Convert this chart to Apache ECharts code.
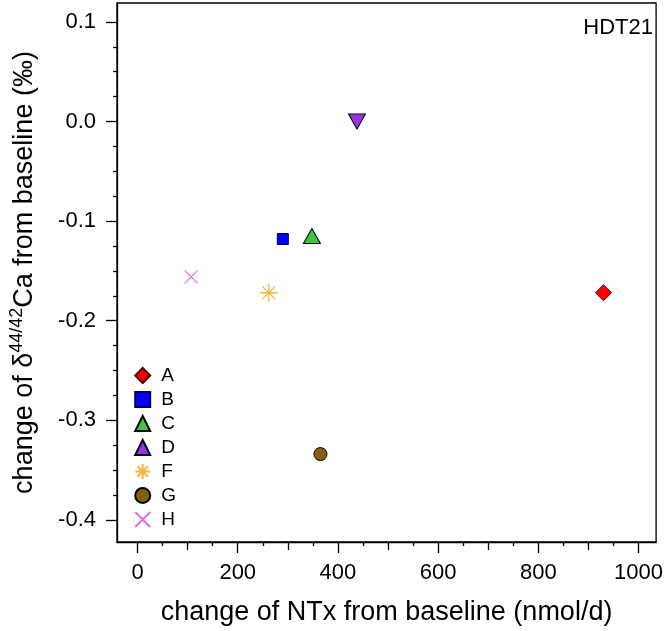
<!DOCTYPE html>
<html>
<head>
<meta charset="utf-8">
<script src="https://cdn.jsdelivr.net/npm/echarts@6/dist/echarts.min.js"></script>
<style>
html,body{margin:0;padding:0;background:#fff;}
#chart{width:666px;height:631px;}
</style>
</head>
<body>
<div id="chart"></div>
<script>
// ---- data ----
const categories = ['A', 'B', 'C', 'D', 'F', 'G', 'H'];
const ntxChange = [930, 290, 348, 438, 262, 365, 107];
const caChange = [-0.172, -0.118, -0.115, 0.000, -0.172, -0.334, -0.156];
const xRange = [-41, 1035];
const yRange = [-0.4223, 0.119];
const xMajorTicks = [0, 200, 400, 600, 800, 1000];
const xMidTicks = [100, 300, 500, 700, 900];
const xMinorTicks = [50, 150, 250, 350, 450, 550, 650, 750, 850, 950];
const yMajorTicks = [0.1, 0.0, -0.1, -0.2, -0.3, -0.4];
const yMinorTicks = [0.075, 0.05, 0.025, -0.025, -0.05, -0.075, -0.125, -0.15, -0.175,
  -0.225, -0.25, -0.275, -0.325, -0.35, -0.375];
const panelLabel = 'HDT21';
const xTitle = 'change of NTx from baseline (nmol/d)';
const yTitle = 'change of δ{sup|44/42}Ca from baseline (‰)';

// ---- styles ----
const FONT = 'Liberation Sans, Arial, sans-serif';
const asterisk = 'path://M0,-10L0,10M-10,0L10,0M-7.07,-7.07L7.07,7.07M-7.07,7.07L7.07,-7.07';
const crossPath = 'path://M-10,-10L10,10M-10,10L10,-10';
const markerStyles = {
  A: {symbol: 'diamond', size: [16, 16], rotate: 0, item: {color: '#ff0000', borderColor: '#4a0000', borderWidth: 1}},
  B: {symbol: 'rect', size: [11, 11], rotate: 0, item: {color: '#0000ff', borderColor: '#00004a', borderWidth: 1}},
  C: {symbol: 'triangle', size: [17, 15], rotate: 0, item: {color: '#3ec83e', borderColor: '#000', borderWidth: 1}},
  D: {symbol: 'triangle', size: [17, 15], rotate: 180, item: {color: '#9a32e8', borderColor: '#000', borderWidth: 1}},
  F: {symbol: asterisk, size: [18, 18], rotate: 0, item: {color: 'transparent', borderColor: '#fcb33c', borderWidth: 1.3}},
  G: {symbol: 'circle', size: [13, 13], rotate: 0, item: {color: '#86600e', borderColor: '#000', borderWidth: 1}},
  H: {symbol: crossPath, size: [13, 13], rotate: 0, item: {color: 'transparent', borderColor: '#e86ce8', borderWidth: 1.2}}
};

const series = categories.map((c, i) => ({
  name: c,
  type: 'scatter',
  symbol: markerStyles[c].symbol,
  symbolSize: markerStyles[c].size,
  symbolRotate: markerStyles[c].rotate,
  itemStyle: Object.assign({opacity: 1}, markerStyles[c].item),
  emphasis: {disabled: true},
  data: [[ntxChange[i], caChange[i]]]
}));

const tickLine = {color: '#000', width: 1.3};
function extraX(values, len) {
  return {
    type: 'value', position: 'bottom', min: xRange[0], max: xRange[1],
    axisLine: {show: false, onZero: false}, splitLine: {show: false},
    axisLabel: {show: false},
    axisTick: {show: true, length: len, lineStyle: tickLine, customValues: values}
  };
}
function extraY(values, len) {
  return {
    type: 'value', position: 'left', min: yRange[0], max: yRange[1],
    axisLine: {show: false, onZero: false}, splitLine: {show: false},
    axisLabel: {show: false},
    axisTick: {show: true, length: len, lineStyle: tickLine, customValues: values}
  };
}

const chart = echarts.init(document.getElementById('chart'), null, {renderer: 'canvas'});
chart.setOption({
  animation: false,
  backgroundColor: '#fff',
  textStyle: {fontFamily: FONT},
  grid: {left: 116, top: 3, right: 7, bottom: 86, show: true, borderColor: '#000', borderWidth: 1.3, backgroundColor: 'transparent'},
  legend: {
    orient: 'vertical', left: 129.2, top: 361,
    itemWidth: 15, itemHeight: 15, itemGap: 5,
    textStyle: {fontSize: 19, color: '#000', fontFamily: FONT, padding: [0, 0, 0, 6]},
    data: categories
  },
  xAxis: [
    {
      type: 'value', position: 'bottom', min: xRange[0], max: xRange[1],
      minInterval: 200, maxInterval: 200,
      name: xTitle, nameLocation: 'middle', nameGap: 57,
      nameTextStyle: {fontSize: 27, color: '#000', fontFamily: FONT},
      axisLine: {show: true, onZero: false, lineStyle: tickLine},
      splitLine: {show: false},
      axisTick: {show: true, length: 11, lineStyle: tickLine, customValues: xMajorTicks},
      axisLabel: {fontSize: 22, color: '#000', margin: 20, fontFamily: FONT, customValues: xMajorTicks,
        formatter: v => String(v)}
    },
    extraX(xMidTicks, 8),
    extraX(xMinorTicks, 4)
  ],
  yAxis: [
    {
      type: 'value', position: 'left', min: yRange[0], max: yRange[1],
      minInterval: 0.1, maxInterval: 0.1,
      name: yTitle,
      nameLocation: 'middle', nameGap: 75, nameRotate: 90,
      nameTextStyle: {fontSize: 27, color: '#000', fontFamily: FONT, lineHeight: 34,
        rich: {sup: {fontSize: 18, lineHeight: 18, verticalAlign: 'top', color: '#000', fontFamily: FONT}}},
      axisLine: {show: true, onZero: false, lineStyle: tickLine},
      splitLine: {show: false},
      axisTick: {show: true, length: 11, lineStyle: tickLine, customValues: yMajorTicks},
      axisLabel: {fontSize: 22, color: '#000', margin: 21, fontFamily: FONT, customValues: yMajorTicks,
        formatter: v => v.toFixed(1)}
    },
    extraY(yMinorTicks, 4)
  ],
  graphic: [{
    type: 'text', right: 13, top: 17,
    style: {text: panelLabel, fontSize: 22, fontFamily: FONT, fill: '#000'}
  }],
  series: series
});
</script>
</body>
</html>
